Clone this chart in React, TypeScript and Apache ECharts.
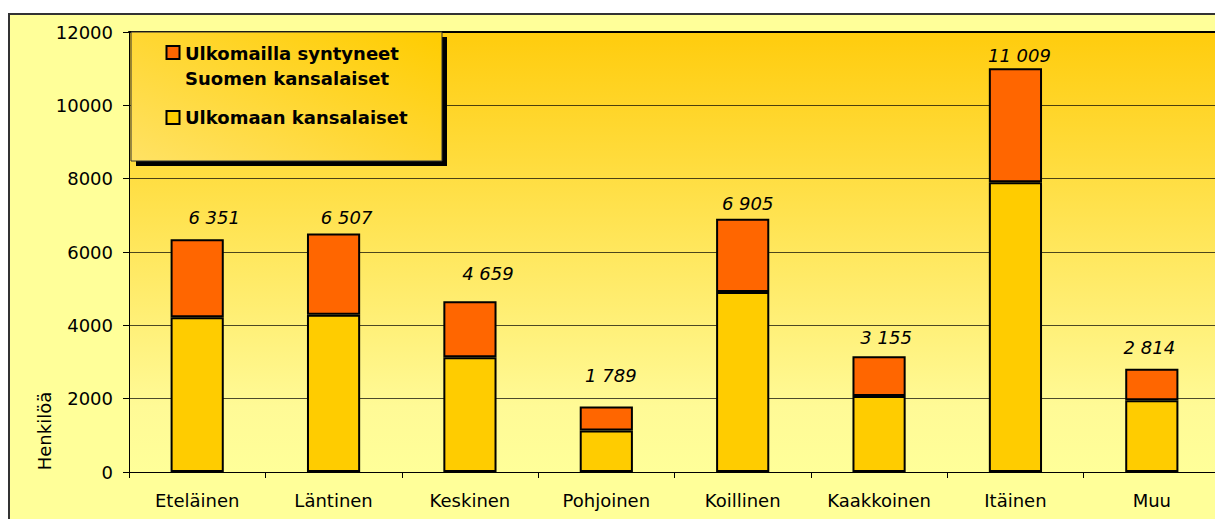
import React, { useEffect, useRef } from "react";
import * as echarts from "echarts";

const categories = ["Eteläinen", "Läntinen", "Keskinen", "Pohjoinen", "Koillinen", "Kaakkoinen", "Itäinen", "Muu"];
const totals = [6351, 6507, 4659, 1789, 6905, 3155, 11009, 2814];
const foreignCitizens = [4220, 4290, 3130, 1130, 4910, 2070, 7900, 1960];
const bornAbroadFinns = totals.map((t, i) => t - foreignCitizens[i]);
const seriesNames = ["Ulkomailla syntyneet\nSuomen kansalaiset", "Ulkomaan kansalaiset"];
const yTicks = { min: 0, max: 12000, interval: 2000 };
const yAxisName = "Henkilöä";

// manual nudges of the total labels (styling, not data)
const labelNudge: [number, number][] = [
  [17, -2.5], [13, 3], [18, -8.5], [4.5, -12], [5, 4], [7, 0], [4, 6], [-2.5, -2],
];

const FONT = "DejaVu Sans";
const ORANGE = "#FF6600";
const YELLOW = "#FFCC00";

const fmt = (v: number) => String(v).replace(/\B(?=(\d{3})+(?!\d))/g, " ");

export default function App() {
  const ref = useRef<HTMLDivElement>(null);
  useEffect(() => {
    if (!ref.current) return;
    const chart = echarts.init(ref.current, null, { renderer: "svg" });
    const nameLines = seriesNames[0].split("\n");
    chart.setOption({
      animation: false,
      textStyle: { fontFamily: FONT },
      grid: {
        left: 129,
        top: 32,
        bottom: 47,
        right: 5,
        show: true,
        borderWidth: 0,
        backgroundColor: {
          type: "linear",
          x: 0, y: 0, x2: 0, y2: 1,
          colorStops: [
            { offset: 0, color: "#FFCC0D" },
            { offset: 0.85, color: "#FFFA96" },
            { offset: 1, color: "#FFFF99" },
          ],
        },
      },
      xAxis: [
        {
          type: "category",
          data: categories,
          axisLine: { lineStyle: { color: "#000", width: 1 } },
          axisTick: { show: true, length: 6, lineStyle: { color: "#000" } },
          axisLabel: { color: "#000", fontSize: 18, fontFamily: FONT, margin: 19 },
        },
        {
          type: "category",
          data: categories,
          position: "top",
          axisLine: { lineStyle: { color: "#000", width: 2 } },
          axisTick: { show: false },
          axisLabel: { show: false },
        },
      ],
      yAxis: {
        type: "value",
        min: yTicks.min,
        max: yTicks.max,
        interval: yTicks.interval,
        axisLine: { show: true, lineStyle: { color: "#000", width: 1 } },
        axisTick: { show: true, length: 6, lineStyle: { color: "#000" } },
        axisLabel: {
          color: "#000",
          fontSize: 18,
          fontFamily: FONT,
          margin: 16,
          formatter: (v: number) => String(v),
        },
        splitLine: { show: true, lineStyle: { color: "rgba(0,0,0,0.7)", width: 1 } },
      },
      series: [
        {
          name: seriesNames[1],
          type: "bar",
          stack: "total",
          barWidth: "39%",
          data: foreignCitizens,
          itemStyle: { color: YELLOW, borderColor: "#000", borderWidth: 2 },
        },
        {
          name: seriesNames[0],
          type: "bar",
          stack: "total",
          barWidth: "39%",
          data: bornAbroadFinns.map((v, i) => ({
            value: v,
            label: { offset: labelNudge[i] },
          })),
          itemStyle: { color: ORANGE, borderColor: "#000", borderWidth: 2 },
          label: {
            show: true,
            position: "top",
            distance: 10,
            color: "#000",
            fontSize: 18,
            fontStyle: "italic",
            fontFamily: FONT,
            formatter: (p: any) => fmt(totals[p.dataIndex]),
          },
        },
      ],
      graphic: [
        {
          type: "rect",
          z: -10,
          shape: { x: 9, y: 14, width: 1400, height: 700 },
          style: { fill: "#FFFF99", stroke: "#333", lineWidth: 2 },
        },
        {
          type: "text",
          x: 44,
          y: 431,
          rotation: Math.PI / 2,
          style: {
            text: yAxisName,
            fontSize: 18,
            fontFamily: FONT,
            fill: "#000",
            align: "center",
            verticalAlign: "middle",
          },
        },
        {
          type: "rect",
          z: 100,
          shape: { x: 136, y: 37, width: 311, height: 129 },
          style: { fill: "#000" },
        },
        {
          type: "rect",
          z: 101,
          shape: { x: 131, y: 32, width: 311, height: 129 },
          style: {
            fill: {
              type: "linear",
              x: 0, y: 1, x2: 1, y2: 0,
              colorStops: [
                { offset: 0, color: "#FFE264" },
                { offset: 1, color: "#FFCC00" },
              ],
            },
            stroke: "#333",
            lineWidth: 1,
          },
        },
        {
          type: "rect",
          z: 102,
          shape: { x: 166.5, y: 46, width: 13, height: 13 },
          style: { fill: ORANGE, stroke: "#000", lineWidth: 2 },
        },
        {
          type: "text",
          z: 102,
          x: 185,
          y: 53,
          style: {
            text: nameLines[0],
            fontSize: 18,
            fontWeight: "bold",
            fontFamily: FONT,
            fill: "#000",
            verticalAlign: "middle",
          },
        },
        {
          type: "text",
          z: 102,
          x: 185,
          y: 78,
          style: {
            text: nameLines[1],
            fontSize: 18,
            fontWeight: "bold",
            fontFamily: FONT,
            fill: "#000",
            verticalAlign: "middle",
          },
        },
        {
          type: "rect",
          z: 102,
          shape: { x: 166.5, y: 111, width: 13, height: 13 },
          style: { fill: YELLOW, stroke: "#000", lineWidth: 2 },
        },
        {
          type: "text",
          z: 102,
          x: 185,
          y: 117.5,
          style: {
            text: seriesNames[1],
            fontSize: 18,
            fontWeight: "bold",
            fontFamily: FONT,
            fill: "#000",
            verticalAlign: "middle",
          },
        },
      ],
    });
    return () => chart.dispose();
  }, []);
  return (
    <div style={{ position: "absolute", left: 0, top: 0, width: 1215, height: 519, overflow: "hidden", background: "#fff" }}>
      <div ref={ref} style={{ width: 1225, height: 519 }} />
    </div>
  );
}
